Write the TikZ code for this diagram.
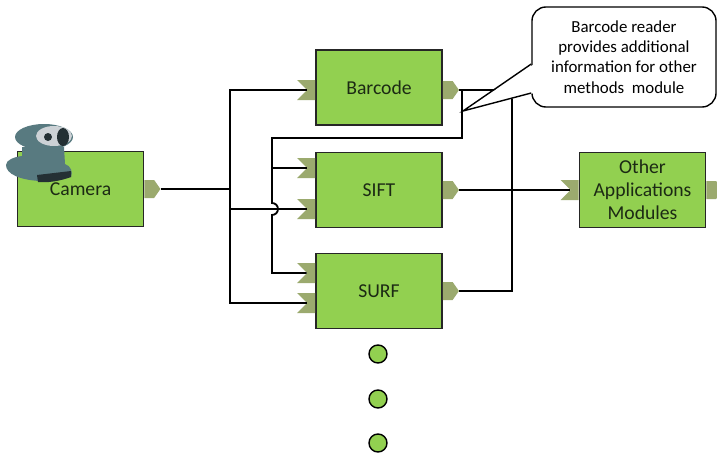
\documentclass[tikz,border=0pt]{standalone}
\usepackage{fontspec}
\setmainfont{Carlito}
\usepackage{xcolor}
\usepackage{tikz}
\usetikzlibrary{shapes,shapes.symbols,positioning,calc}

\definecolor{modgreen}{RGB}{146,208,80}
\definecolor{portgreen}{RGB}{155,170,110}
\definecolor{modtext}{RGB}{28,42,20}
\definecolor{camgray}{RGB}{88,122,128}
\definecolor{camdark}{RGB}{36,48,52}
\definecolor{camlight}{RGB}{205,210,214}

\begin{document}
\begin{tikzpicture}[
    x=0.025cm, y=-0.025cm,
    module/.style={rectangle, draw=black!85, line width=0.9pt, fill=modgreen,
        minimum width=3.15cm, minimum height=1.875cm, align=center,
        text=modtext, font=\fontsize{14}{16.5}\selectfont},
    outport/.style={signal, signal to=east, signal pointer angle=110, fill=portgreen,
        inner sep=0pt, minimum width=0.4cm, minimum height=0.45cm, anchor=west},
    inport/.style={signal, signal from=west, signal to=nowhere, fill=portgreen,
        inner sep=0pt, minimum width=0.45cm, minimum height=0.5cm, anchor=east},
    wire/.style={line width=1.3pt, black},
    note/.style={rectangle, draw=black, line width=1pt, fill=white,
        rounded corners=0.35cm, minimum width=4.6cm, minimum height=2.5cm,
        align=center, font=\fontsize{12}{14.5}\selectfont},
    dot/.style={circle, draw=black, line width=1pt, fill=modgreen, minimum size=0.45cm}
]
    \useasboundingbox (0,0) rectangle (717,455);

    % Modules
    \node[module] (camera) at (80.5,189) {Camera};
    \node[module] (barcode) at (379,87.5) {Barcode};
    \node[module] (sift) at (379,190) {SIFT};
    \node[module] (surf) at (379,291) {SURF};
    \node[module] (other) at (642.5,190) {Other\\Applications\\Modules};

    % Output ports
    \node[outport] (camera-out) at (camera.east) {};
    \node[outport] (barcode-out) at (barcode.east |- 0,90) {};
    \node[outport] (sift-out) at (sift.east) {};
    \node[outport] (surf-out) at (surf.east) {};
    \node[outport] (other-out) at (other.east) {};

    % Input ports
    \node[inport] (barcode-in) at (barcode.west |- 0,90) {};
    \node[inport] (sift-in1) at (sift.west |- 0,168) {};
    \node[inport] (sift-in2) at (sift.west |- 0,209) {};
    \node[inport] (surf-in1) at (surf.west |- 0,273) {};
    \node[inport] (surf-in2) at (surf.west |- 0,303) {};
    \node[inport] (other-in) at (other.west) {};

    % Webcam on the camera module
    \fill[camgray] (22,147) -- (64,147) -- (65,164)
        .. controls (71,166) and (73,172) .. (71,177) -- (40,181)
        .. controls (20,180) and (6,174) .. (6,165)
        .. controls (6,160) and (14,157) .. (22,156) -- cycle;
    \fill[camgray] (44,137) ellipse [x radius=29, y radius=13];
    \fill[camlight] (54,136) ellipse [x radius=18, y radius=10];
    \fill[camdark] (48,137) circle [radius=4];
    \fill[camdark] (63,137) ellipse [x radius=6, y radius=9];
    \fill[camdark] (37,175) -- (71,171) -- (71,177) .. controls (60,181) and (48,183) .. (38,182) -- cycle;

    % Bus coordinates
    \coordinate (camjoin) at (230,189);
    \coordinate (bartap) at (462,90);
    \coordinate (feed) at (272,138);

    % Camera feed to every method
    \draw[wire] (camera-out.east) -- (camjoin);
    \draw[wire] (barcode-in.west) -| (camjoin) |- (surf-in2.west);
    \draw[wire] (camjoin |- sift-in2) -- (sift-in2.west);

    % Barcode results into the other methods
    \draw[wire] (bartap) |- (feed) -- (272,203)
        arc[start angle=90, end angle=-90, radius=0.15cm] |- (surf-in1.west);
    \draw[wire] (feed |- sift-in1) -- (sift-in1.west);

    % Results to the applications
    \draw[wire] (barcode-out.east) -- (512,90) |- (surf-out.east);
    \draw[wire] (sift-out.east) -- (other-in.west);

    % Note with its pointer
    \node[note] (hint) at (624,57)
        {Barcode reader\\provides additional\\information for other\\methods~ module};
    \coordinate (tip) at (463,111);
    \fill[white] ($(hint.west |- 0,64)+(3,0)$) -- (tip) -- ($(hint.west |- 0,93)+(3,0)$) -- cycle;
    \draw[line width=1pt, line join=miter] (hint.west |- 0,64) -- (tip) -- (hint.west |- 0,93);

    % More methods
    \node[dot] (more1) at (378,354) {};
    \node[dot] (more2) at (378,399) {};
    \node[dot] (more3) at (378,443) {};
\end{tikzpicture}
\end{document}
